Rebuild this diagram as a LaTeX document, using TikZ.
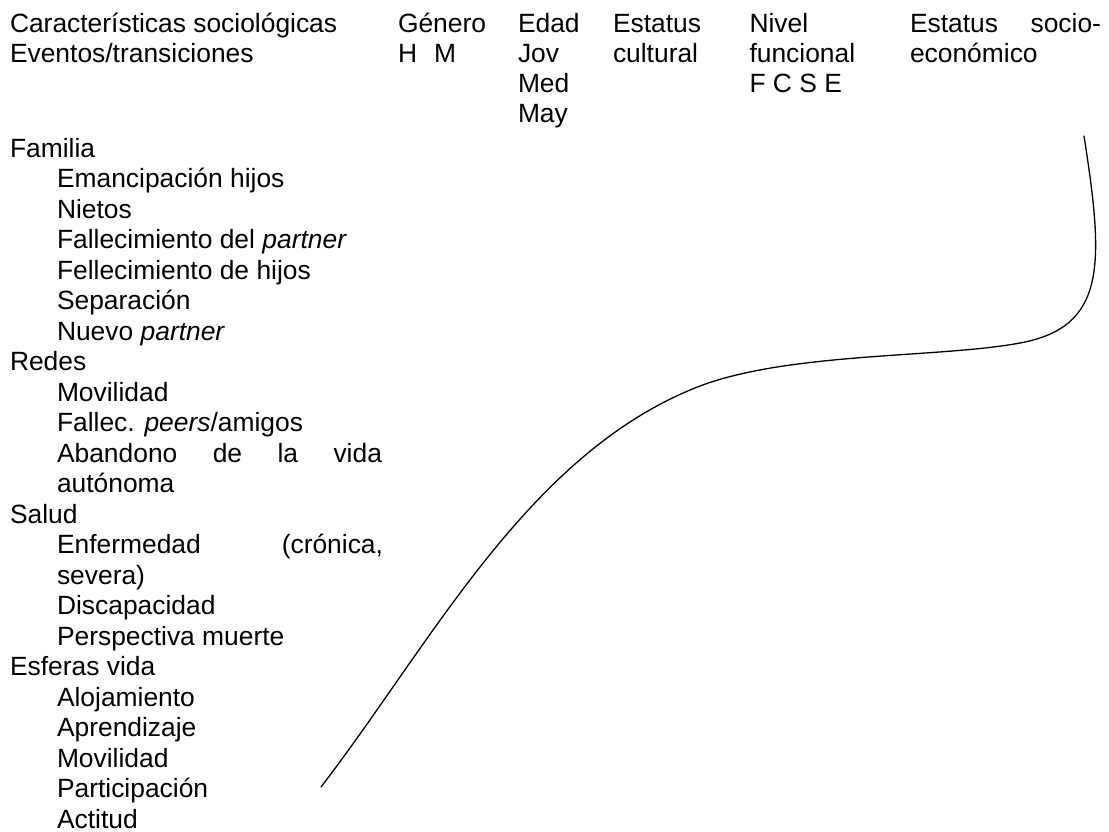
\documentclass[tikz,border=0pt]{standalone}
\usepackage{fontspec}
\setmainfont{Liberation Sans}
\begin{document}
\begin{tikzpicture}[x=1pt,y=-1pt,
  txt/.style={anchor=base west,inner sep=0pt,outer sep=0pt,
              font=\fontsize{26.4}{30.5}\selectfont},
  curve/.style={line width=1.3pt,line cap=round,line join=round}]
\useasboundingbox (0,0) rectangle (1109,832);

% header row
\node[txt] (hA) at (10,33)   {Características sociológicas};
\node[txt] (hB) at (10,62.8) {Eventos/transiciones};
\node[txt] (gen)  at (398,33)   {Género};
\node[txt] (genH) at (398,62.8) {H};
\node[txt] (genM) at (434,62.8) {M};
\node[txt] (edad) at (518,33)    {Edad};
\node[txt] (jov)  at (518,62.8)  {Jov};
\node[txt] (med)  at (518,92.6)  {Med};
\node[txt] (may)  at (518,122.4) {May};
\node[txt] (cultA) at (613,33)   {Estatus};
\node[txt] (cultB) at (613,62.8) {cultural};
\node[txt] (nivA) at (749.5,33)   {Nivel};
\node[txt] (nivB) at (749.5,62.8) {funcional};
\node[txt] (nivC) at (749.5,92.6) {F C S E};
\node[txt] (sesA) at (910,33)   {\hbox to 191pt{Estatus\hfill socio-}};
\node[txt] (sesB) at (910,62.8) {económico};

% events and transitions
\node[txt] (fam)   at (10,157.3) {Familia};
\node[txt] (fam1)  at (57,187.8) {Emancipación hijos};
\node[txt] (fam2)  at (57,218.3) {Nietos};
\node[txt] (fam3)  at (57,248.8) {Fallecimiento del \textit{partner}};
\node[txt] (fam4)  at (57,279.3) {Fellecimiento de hijos};
\node[txt] (fam5)  at (57,309.8) {Separación};
\node[txt] (fam6)  at (57,340.3) {Nuevo \textit{partner}};
\node[txt] (red)   at (10,370.8) {Redes};
\node[txt] (red1)  at (57,401.3) {Movilidad};
\node[txt] (red2)  at (57,431.8) {Fallec. \textit{peers}/amigos};
\node[txt] (red3)  at (57,462.3) {\hbox to 325pt{Abandono\hfill de\hfill la\hfill vida}};
\node[txt] (red3b) at (57,492.8) {autónoma};
\node[txt] (sal)   at (10,523.3) {Salud};
\node[txt] (sal1)  at (57,553.8) {\hbox to 326pt{Enfermedad\hfill (crónica,}};
\node[txt] (sal1b) at (57,584.3) {severa)};
\node[txt] (sal2)  at (57,614.8) {Discapacidad};
\node[txt] (sal3)  at (57,645.3) {Perspectiva muerte};
\node[txt] (esf)   at (10,675.8) {Esferas vida};
\node[txt] (esf1)  at (57,706.3) {Alojamiento};
\node[txt] (esf2)  at (57,736.8) {Aprendizaje};
\node[txt] (esf3)  at (57,767.3) {Movilidad};
\node[txt] (esf4)  at (57,797.8) {Participación};
\node[txt] (esf5)  at (57,828.3) {Actitud};

% trajectory curve
\coordinate (c0) at (321,787);
\coordinate (c1) at (700,386);
\coordinate (c2) at (1020,343);
\coordinate (c3) at (1084,136);
\draw[curve] (c0) .. controls (433,641) and (529,452) .. (c1)
                  .. controls (790,352) and (940,358) .. (c2)
                  .. controls (1107,327) and (1104,264) .. (c3);
\end{tikzpicture}
\end{document}
